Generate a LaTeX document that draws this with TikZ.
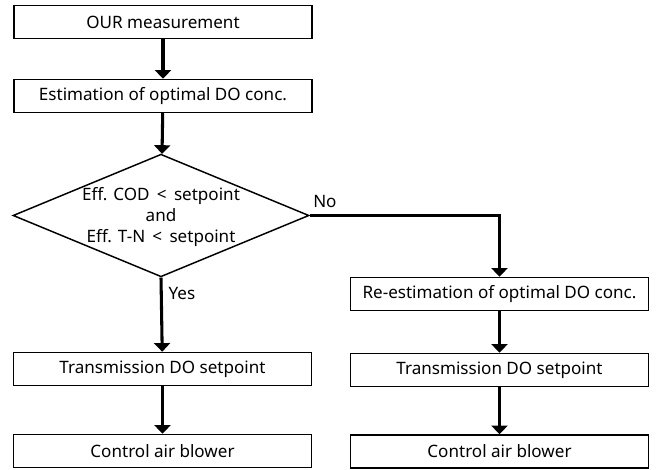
\documentclass[tikz,border=0pt]{standalone}
\usepackage{fontspec}
\setmainfont{Noto Sans}
\usetikzlibrary{arrows.meta,positioning,shapes.geometric}

\begin{document}
\begin{tikzpicture}[x=0.75pt, y=-0.75pt,
  box/.style={draw, line width=1.1pt, minimum width=223.5pt, minimum height=24.75pt, inner sep=0pt, font=\fontsize{12.8}{15}\selectfont},
  decision/.style={draw, diamond, aspect=2.4, line width=1.1pt, minimum width=222pt, minimum height=92pt, inner sep=0pt},
  flow/.style={line width=2.3pt, -{Triangle[width=12pt,length=6.5pt]}},
  tag/.style={font=\fontsize{12.8}{15}\selectfont}]
\useasboundingbox (0,0) rectangle (656,470);
\node[box] (our) at (163,22) {OUR measurement};
\node[box] (est) at (163,96) {Estimation of optimal DO conc.};
\node[decision, label={[tag, align=center, yshift=-1.5pt, font=\fontsize{12.8}{15.75}\selectfont]center:Eff. COD \,<\, setpoint\\and\\Eff. T-N \,<\, setpoint}] (cond) at (161,215.5) {};
\node[box] (reest) at (499.5,294) {Re-estimation of optimal DO conc.};
\node[box] (trL) at (162.5,369) {Transmission DO setpoint};
\node[box] (trR) at (499.5,370) {Transmission DO setpoint};
\node[box] (ctL) at (162.5,451) {Control air blower};
\node[box] (ctR) at (499.5,451.5) {Control air blower};
\draw[flow] (our) -- (est);
\draw[flow] (est) -- (cond);
\draw[flow] (cond.south) -- node[tag, right, pos=0.22, xshift=1pt] {Yes} (trL);
\draw[flow] (cond.east) -| node[tag, above right, pos=0, inner sep=1.5pt, yshift=3pt] {No} (reest);
\draw[flow] (reest) -- (trR);
\draw[flow] (trL) -- (ctL);
\draw[flow] (trR) -- (ctR);
\end{tikzpicture}
\end{document}
